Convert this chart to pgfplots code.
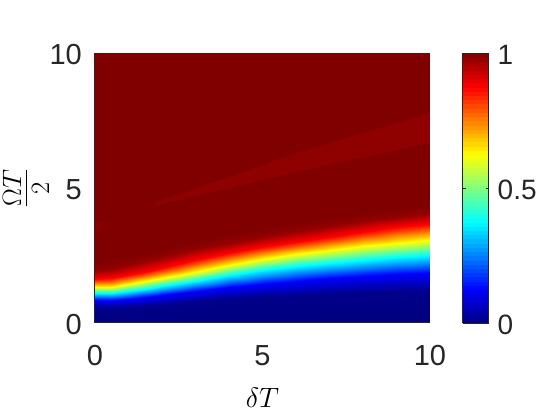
\RequirePackage{fix-cm}
\documentclass[border=0pt]{standalone}
\usepackage{fontspec}
\setmainfont{Liberation Sans}
\usepackage{pgfplots}
\usepackage{pgfplotstable}
\pgfplotsset{compat=1.18}
\definecolor{axgray}{RGB}{38,38,38}

% fidelity map: one scan line per deltaT value,
% rows placed on the colour levels (curvilinear mesh)
\pgfplotstableread{
x y v
0 0 0
0 0.55 0.01
0 0.85 0.125
0 1.10 0.375
0 1.32 0.625
0 1.62 0.875
0 1.96 0.98
0 2.26 1
0 3.40 1
0 3.50 0.99
0 3.70 0.99
0 3.80 1
0 10 1
0.5 0 0
0.5 0.56 0.01
0.5 0.86 0.125
0.5 1.12 0.375
0.5 1.35 0.625
0.5 1.66 0.875
0.5 2.01 0.98
0.5 2.31 1
0.5 3.60 1
0.5 3.70 1
0.5 3.80 1
0.5 3.90 1
0.5 10 1
1 0 0
1 0.60 0.01
1 0.90 0.125
1 1.18 0.375
1 1.44 0.625
1 1.77 0.875
1 2.14 0.98
1 2.44 1
1 3.90 1
1 4.00 1
1 4.10 1
1 4.20 1
1 10 1
1.5 0 0
1.5 0.64 0.01
1.5 0.96 0.125
1.5 1.27 0.375
1.5 1.54 0.625
1.5 1.90 0.875
1.5 2.29 0.98
1.5 2.59 1
1.5 4.15 1
1.5 4.20 1
1.5 4.25 1
1.5 4.30 1
1.5 10 1
2 0 0
2 0.68 0.01
2 1.02 0.125
2 1.37 0.375
2 1.66 0.625
2 2.05 0.875
2 2.45 0.98
2 2.75 1
2 4.39 1
2 4.44 0.985
2 4.54 0.985
2 4.59 1
2 10 1
3 0 0
3 0.78 0.01
3 1.18 0.125
3 1.57 0.375
3 1.90 0.625
3 2.34 0.875
3 2.74 0.98
3 3.04 1
3 4.70 1
3 4.75 0.985
3 4.97 0.985
3 5.02 1
3 10 1
4 0 0
4 0.88 0.01
4 1.33 0.125
4 1.77 0.375
4 2.14 0.625
4 2.59 0.875
4 2.98 0.98
4 3.28 1
4 5.00 1
4 5.05 0.985
4 5.41 0.985
4 5.46 1
4 10 1
5 0 0
5 0.95 0.01
5 1.46 0.125
5 1.95 0.375
5 2.36 0.625
5 2.80 0.875
5 3.18 0.98
5 3.48 1
5 5.30 1
5 5.35 0.985
5 5.85 0.985
5 5.90 1
5 10 1
6 0 0
6 1.01 0.01
6 1.57 0.125
6 2.10 0.375
6 2.54 0.625
6 3.01 0.875
6 3.39 0.98
6 3.69 1
6 5.59 1
6 5.64 0.985
6 6.28 0.985
6 6.33 1
6 10 1
7 0 0
7 1.07 0.01
7 1.67 0.125
7 2.23 0.375
7 2.70 0.625
7 3.20 0.875
7 3.58 0.98
7 3.88 1
7 5.86 1
7 5.91 0.985
7 6.65 0.985
7 6.70 1
7 10 1
8 0 0
8 1.12 0.01
8 1.75 0.125
8 2.33 0.375
8 2.84 0.625
8 3.38 0.875
8 3.76 0.98
8 4.06 1
8 6.12 1
8 6.17 0.985
8 7.03 0.985
8 7.08 1
8 10 1
9 0 0
9 1.16 0.01
9 1.81 0.125
9 2.43 0.375
9 2.96 0.625
9 3.54 0.875
9 3.92 0.98
9 4.22 1
9 6.39 1
9 6.44 0.985
9 7.40 0.985
9 7.45 1
9 10 1
10 0 0
10 1.20 0.01
10 1.86 0.125
10 2.52 0.375
10 3.07 0.625
10 3.68 0.875
10 4.06 0.98
10 4.36 1
10 6.66 1
10 6.71 0.985
10 7.79 0.985
10 7.84 1
10 10 1
}\fidelity

\begin{document}
\begin{tikzpicture}[x=1pt,y=1pt]
\useasboundingbox (0,0) rectangle (538,419);
\begin{axis}[
    at={(95pt,96pt)}, anchor=south west,
    scale only axis, width=335pt, height=270pt,
    xmin=0, xmax=10, ymin=0, ymax=10,
    xtick={0,5,10}, ytick={0,5,10},
    axis x line*=bottom, axis y line*=left,
    axis line style={axgray, line width=1pt, -},
    major tick length=0pt,
    axis on top,
    /pgf/number format/assume math mode=true,
    tick label style={font=\fontsize{29}{34}\selectfont, text=axgray},
    xticklabel style={inner sep=0pt, anchor=north, yshift=-22pt},
    yticklabel style={inner sep=0pt, anchor=east, xshift=-13pt, yshift=-2pt},
    xlabel={$\delta T$}, ylabel={$\frac{\Omega T}{2}$},
    xlabel style={font=\fontsize{28}{32}\selectfont,
        at={(axis description cs:0.5,-0.278)}, anchor=center},
    ylabel style={font=\fontsize{38}{44}\selectfont,
        at={(axis description cs:-0.206,0.5)}, anchor=center},
    colormap/jet,
    point meta min=0, point meta max=1,
    colorbar sampled,
    colorbar style={
        at={(parent axis.south east)}, anchor=south west, xshift=24pt,
        width=26pt,
        samples=65,
        ytick={0,0.5,1},
        axis on top,
        axis line style={axgray, line width=0.8pt},
        major tick length=3pt, tick style={axgray},
        /pgf/number format/assume math mode=true,
        yticklabel style={font=\fontsize{28}{34}\selectfont, text=axgray,
            inner sep=0pt, anchor=west, xshift=9pt, yshift=-2pt},
    },
]
\addplot[surf, shader=interp, mesh/ordering=y varies, mesh/rows=13,
    point meta=explicit] table[x=x, y=y, meta=v] {\fidelity};
\end{axis}
\end{tikzpicture}
\end{document}
